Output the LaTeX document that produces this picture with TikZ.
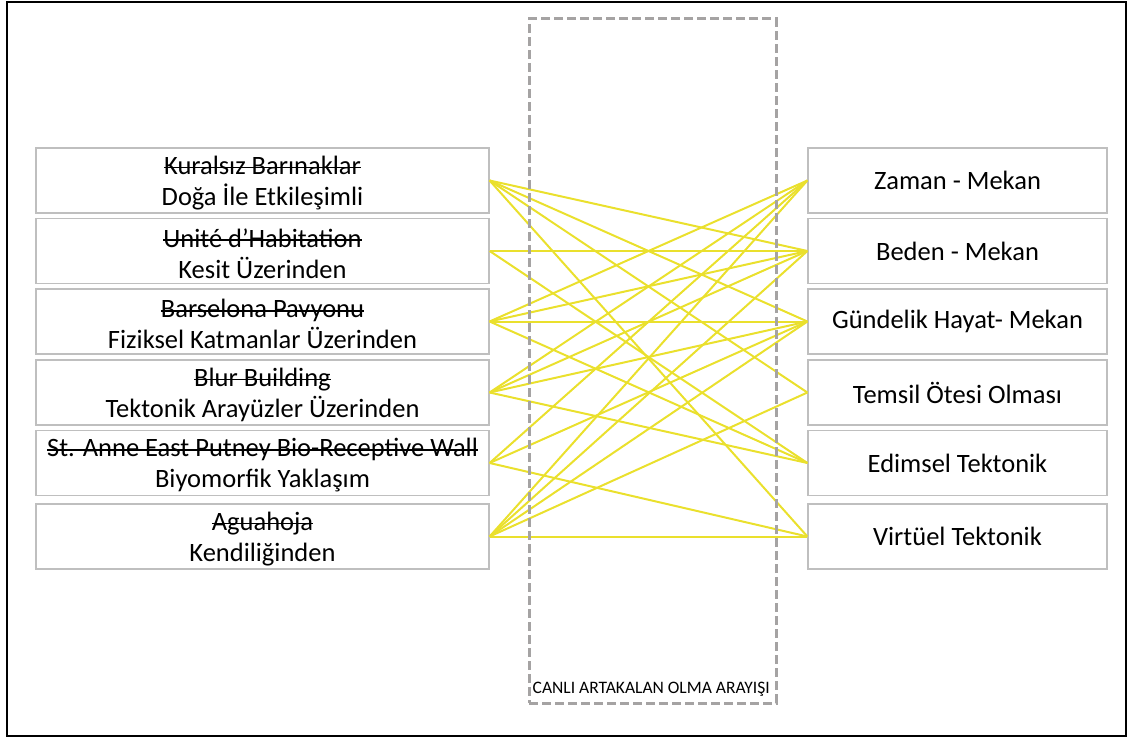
\documentclass[tikz,border=0pt]{standalone}
\usepackage{fontspec}
\setmainfont{Carlito}
\newcommand{\mystrike}[1]{\setbox0=\hbox{#1}\leavevmode\rlap{\rule[0.23em]{\wd0}{1.8pt}}\box0}
\definecolor{boxgray}{RGB}{191,191,191}
\definecolor{dashgray}{RGB}{165,163,163}
\definecolor{linkyellow}{RGB}{234,224,45}
\tikzset{
  lbox/.style={draw=boxgray, line width=1.2pt, minimum width=453pt, minimum height=65pt,
    inner sep=0pt},
  ltext/.style={align=center, inner sep=0pt, yshift=-2.5pt, font=\fontsize{26.5}{31}\selectfont},
  rbox/.style={draw=boxgray, line width=1.2pt, minimum width=299pt, minimum height=65pt,
    inner sep=0pt, align=center, font=\fontsize{26.5}{31}\selectfont},
  link/.style={draw=linkyellow, line width=2pt},
  dashframe/.style={draw=dashgray, line width=3pt, dash pattern=on 9pt off 4pt,
    minimum width=247pt, minimum height=684pt, inner sep=0pt},
  outerframe/.style={draw=black, line width=2.4pt}
}
\begin{document}
\begin{tikzpicture}[x=1pt,y=-1pt]
\useasboundingbox (0,0) rectangle (1131,738);
\draw[outerframe] (7,2) rectangle (1126,736);
% left boxes
\node[lbox, label={[ltext]center:{\mystrike{Kuralsız Barınaklar}\\Doğa İle Etkileşimli}}] (L1) at (262.5,180.5) {};
\node[lbox, label={[ltext]center:{\mystrike{Unité d’Habitation}\\Kesit Üzerinden}}] (L2) at (262.5,251) {};
\node[lbox, label={[ltext]center:{\mystrike{Barselona Pavyonu}\\Fiziksel Katmanlar Üzerinden}}] (L3) at (262.5,321.5) {};
\node[lbox, label={[ltext]center:{\mystrike{Blur Building}\\Tektonik Arayüzler Üzerinden}}] (L4) at (262.5,392.5) {};
\node[lbox, label={[ltext]center:{\mystrike{St. Anne East Putney Bio-Receptive Wall}\\Biyomorfik Yaklaşım}}] (L5) at (262.5,463) {};
\node[lbox, label={[ltext]center:{\mystrike{Aguahoja}\\Kendiliğinden}}] (L6) at (262.5,536.5) {};
% right boxes
\node[rbox] (R1) at (957.5,180.5) {Zaman - Mekan};
\node[rbox] (R2) at (957.5,251) {Beden - Mekan};
\node[rbox] (R3) at (957.5,321.5) {Gündelik Hayat- Mekan};
\node[rbox] (R4) at (957.5,392.5) {Temsil Ötesi Olması};
\node[rbox] (R5) at (957.5,463) {Edimsel Tektonik};
\node[rbox] (R6) at (957.5,536.5) {Virtüel Tektonik};
% links
\foreach \r in {2,3,4,6} \draw[link] (L1.east) -- (R\r.west);
\foreach \r in {2,5} \draw[link] (L2.east) -- (R\r.west);
\foreach \r in {1,2,3,5} \draw[link] (L3.east) -- (R\r.west);
\foreach \r in {1,2,3,5} \draw[link] (L4.east) -- (R\r.west);
\foreach \r in {1,3,6} \draw[link] (L5.east) -- (R\r.west);
\foreach \r in {1,2,3,4,6} \draw[link] (L6.east) -- (R\r.west);
% dashed frame
\node[dashframe] (F) at (652.5,361) {};
\node[anchor=base west, inner sep=0pt, font=\fontsize{17.5}{21}\selectfont] (FL) at (532.5,693.5) {CANLI ARTAKALAN OLMA ARAYIŞI};
\end{tikzpicture}
\end{document}
